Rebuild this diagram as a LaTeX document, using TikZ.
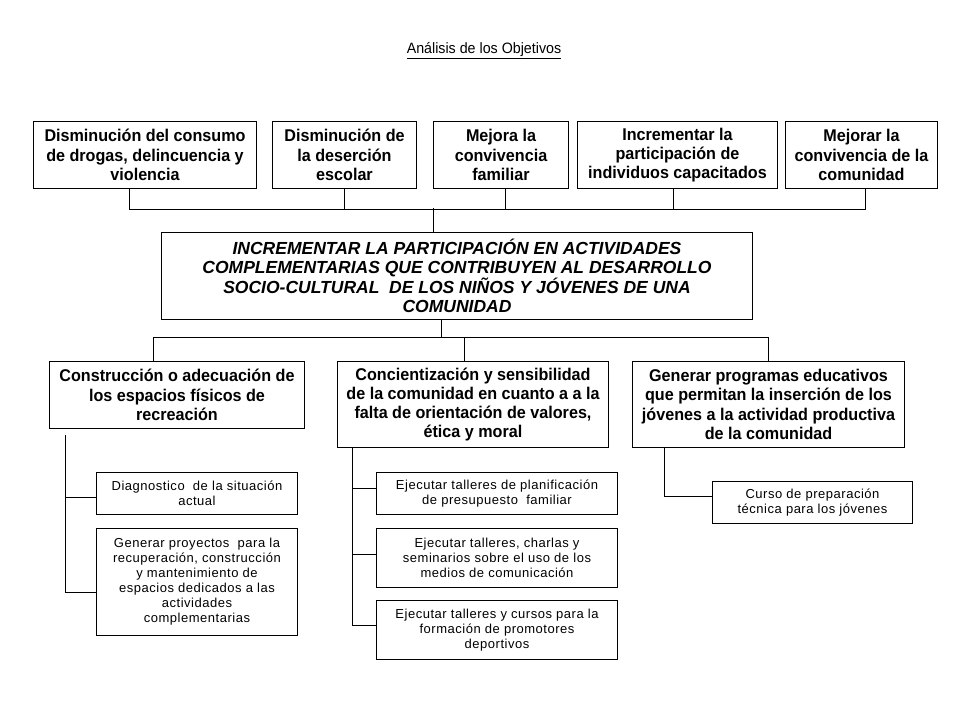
\documentclass[tikz,border=0pt]{standalone}
\usepackage{fontspec}
\setmainfont{Liberation Sans}
\newfontfamily\narrowfont[FakeStretch=0.95]{Liberation Sans}
\newfontfamily\subfont[LetterSpace=4]{Liberation Sans}
\begin{document}
\begin{tikzpicture}[x=1pt,y=-1pt,
  box/.style={draw, line width=1pt, align=center, inner sep=0pt, anchor=north west},
  topbox/.style={box, font=\narrowfont\bfseries\fontsize{17}{19.3}\selectfont},
  mainbox/.style={box, font=\bfseries\itshape\fontsize{17.5}{19.5}\selectfont},
  subbox/.style={box, font=\subfont\fontsize{13}{15}\selectfont},
  link/.style={line width=1pt}]
\useasboundingbox (0,0) rectangle (960,720);

\node (title) at (484,51) {\narrowfont\fontsize{15}{17}\selectfont\underline{Análisis de los Objetivos}};

% top row
\node[topbox, minimum width=223pt, minimum height=67pt] (t1) at (33,121) {Disminución del consumo\\de drogas, delincuencia y\\violencia};
\node[topbox, minimum width=144pt, minimum height=67pt] (t2) at (272,121) {Disminución de\\la deserción\\escolar};
\node[topbox, minimum width=135pt, minimum height=67pt] (t3) at (433,121) {Mejora la\\convivencia\\familiar};
\node[topbox, minimum width=200pt, minimum height=67pt] (t4) at (577,121) {Incrementar la\\participación de\\individuos capacitados};
\node[topbox, minimum width=152pt, minimum height=67pt] (t5) at (785,121) {Mejorar la\\convivencia de la\\comunidad};

% main
\node[mainbox, minimum width=591pt, minimum height=87pt] (main) at (161,232) {INCREMENTAR LA PARTICIPACIÓN EN ACTIVIDADES\\COMPLEMENTARIAS QUE CONTRIBUYEN AL DESARROLLO\\SOCIO-CULTURAL \ DE LOS NIÑOS Y JÓVENES DE UNA\\COMUNIDAD};

% middle row
\node[topbox, minimum width=255pt, minimum height=67pt] (m1) at (49,361) {Construcción o adecuación de\\los espacios físicos de\\recreación};
\node[topbox, minimum width=271pt, minimum height=86pt] (m2) at (337,361) {Concientización y sensibilidad\\de la comunidad en cuanto a a la\\falta de orientación de valores,\\ética y moral};
\node[topbox, minimum width=272pt, minimum height=86pt] (m3) at (632,361) {Generar programas educativos\\que permitan la inserción de los\\jóvenes a la actividad productiva\\de la comunidad};

% sub boxes
\node[subbox, minimum width=201pt, minimum height=42pt] (s1) at (96,472) {Diagnostico \ de la situación\\actual};
\node[subbox, minimum width=201pt, minimum height=107pt] (s2) at (96,528) {Generar proyectos \ para la\\recuperación, construcción\\y mantenimiento de\\espacios dedicados a las\\actividades\\complementarias};
\node[subbox, minimum width=241pt, minimum height=42pt] (s3) at (376,472) {Ejecutar talleres de planificación\\de presupuesto \ familiar};
\node[subbox, minimum width=241pt, minimum height=59pt] (s4) at (376,528) {Ejecutar talleres, charlas y\\seminarios sobre el uso de los\\medios de comunicación};
\node[subbox, minimum width=241pt, minimum height=59pt] (s5) at (376,600) {Ejecutar talleres y cursos para la\\formación de promotores\\deportivos};
\node[subbox, minimum width=200pt, minimum height=42pt] (s6) at (712,481) {Curso de preparación\\técnica para los jóvenes};

% top connectors
\coordinate (jT) at (433,208);
\draw[link] ([xshift=96pt]t1.south west) -- ++(0,20) -| ([xshift=80pt]t5.south west);
\draw[link] ([xshift=72pt]t2.south west) -- ++(0,20);
\draw[link] ([xshift=72pt]t3.south west) -- ++(0,20);
\draw[link] ([xshift=96pt]t4.south west) -- ++(0,20);
\draw[link] (main.north -| jT) -- (jT);

% middle connectors
\coordinate (jM) at (441,337);
\draw[link] (main.south -| jM) -- (jM);
\draw[link] ([xshift=104pt]m1.north west) -- ++(0,-24) -| ([xshift=136pt]m3.north west);
\draw[link] ([xshift=127pt]m2.north west) -- ++(0,-24);

% sub connectors
\draw[link] ([xshift=16pt,yshift=-6pt]m1.south west) |- ([yshift=-10pt]s2.west);
\draw[link] ([yshift=-4pt]s1.west) -- ++(-31,0);
\draw[link] ([xshift=15pt]m2.south west) |- ([yshift=5pt]s5.west);
\draw[link] ([yshift=5pt]s3.west) -- ++(-24,0);
\draw[link] ([yshift=4pt]s4.west) -- ++(-24,0);
\draw[link] ([xshift=32pt]m3.south west) |- ([yshift=6pt]s6.west);
\end{tikzpicture}
\end{document}
